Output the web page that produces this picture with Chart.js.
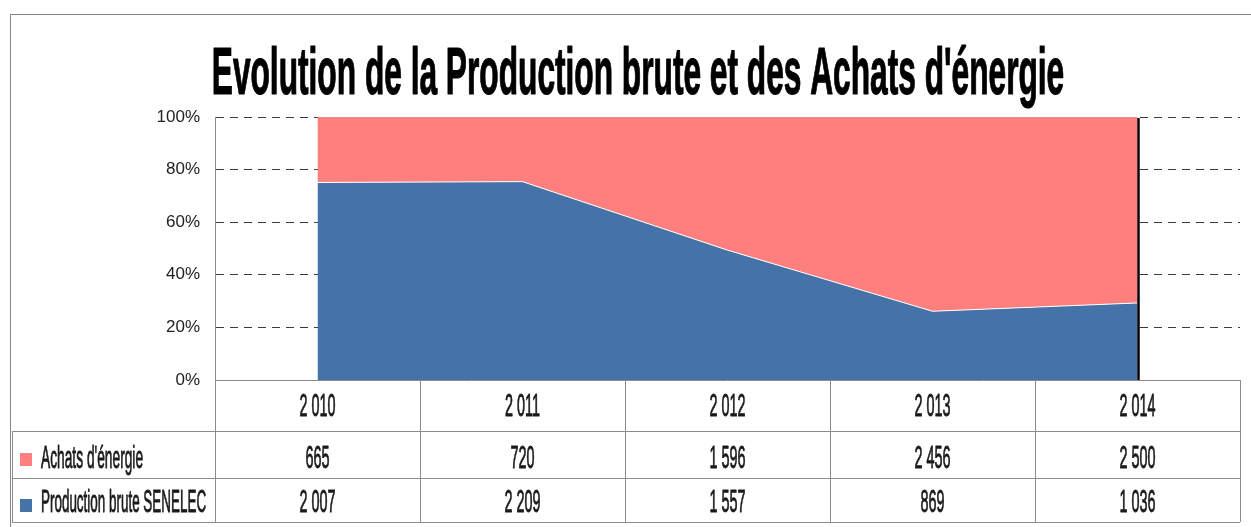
<!DOCTYPE html>
<html>
<head>
<meta charset="utf-8">
<script src="https://cdn.jsdelivr.net/npm/chart.js@4/dist/chart.umd.min.js"></script>
<style>
  html, body { margin: 0; padding: 0; background: #fff; overflow: hidden; }
  #frame {
    position: absolute; left: 10px; top: 14px;
    width: 1300px; height: 560px;
    border: 1px solid #868686;
  }
  canvas { display: block; }
</style>
</head>
<body>
<div id="frame"><canvas id="myChart" width="1254" height="512"></canvas></div>
<script>
const title = "Evolution de la Production brute et des Achats d'énergie";
const categories = ['2 010', '2 011', '2 012', '2 013', '2 014'];
const achats = [665, 720, 1596, 2456, 2500];
const production = [2007, 2209, 1557, 869, 1036];
const seriesNames = ["Achats d'énergie", 'Production brute SENELEC'];
const blue = '#4572A7';
const pink = '#FF7F7F';

// parts of 100%
const prodShare = production.map((v, i) => v / (v + achats[i]));
const achatsShare = achats.map((v, i) => v / (v + production[i]));

const fmt = n => String(n).replace(/\B(?=(\d{3})+(?!\d))/g, ' ');

// condensed text: squeeze a normal font horizontally
function narrowText(ctx, text, x, y, font, sx, align, stroke) {
  ctx.save();
  ctx.font = font;
  const w = ctx.measureText(text).width * sx;
  let left = x;
  if (align === 'center') left = x - w / 2;
  ctx.translate(left, y);
  ctx.scale(sx, 1);
  ctx.textAlign = 'left';
  ctx.textBaseline = 'alphabetic';
  ctx.fillText(text, 0, 0);
  if (stroke) {
    ctx.lineWidth = stroke;
    ctx.strokeStyle = ctx.fillStyle;
    ctx.lineJoin = 'round';
    ctx.strokeText(text, 0, 0);
  }
  ctx.restore();
}

const tablePlugin = {
  id: 'tablePlugin',
  afterDatasetsDraw(chart) {
    const ctx = chart.ctx;
    const area = chart.chartArea;
    const x = chart.scales.x;
    // black line at the last point
    const xl = x.getPixelForValue(categories.length - 1) + 1;
    ctx.save();
    ctx.strokeStyle = '#000';
    ctx.lineWidth = 2.5;
    ctx.beginPath();
    ctx.moveTo(xl, area.top + 1);
    ctx.lineTo(xl, area.bottom);
    ctx.stroke();
    ctx.restore();
  },
  afterDraw(chart) {
    const ctx = chart.ctx;
    const area = chart.chartArea;
    const x = chart.scales.x;
    const step = x.getPixelForValue(1) - x.getPixelForValue(0);
    const r0 = area.bottom, r1 = r0 + 51, r2 = r1 + 47, r3 = r2 + 44;
    const tableLeft = 1;

    // title
    ctx.save();
    ctx.fillStyle = '#000';
    narrowText(ctx, title, chart.width / 2, 79, 'bold 66px "Liberation Sans", Arial, sans-serif', 0.48, 'center', 1.2);
    ctx.restore();

    ctx.save();
    ctx.strokeStyle = '#8c8c8c';
    ctx.lineWidth = 1;
    ctx.beginPath();
    ctx.moveTo(area.left, r0 + 0.5); ctx.lineTo(area.right, r0 + 0.5);
    [r1, r2, r3].forEach(y => { ctx.moveTo(tableLeft, y + 0.5); ctx.lineTo(area.right, y + 0.5); });
    ctx.moveTo(tableLeft + 0.5, r1); ctx.lineTo(tableLeft + 0.5, r3);
    for (let i = 0; i <= categories.length; i++) {
      const cx = Math.round(x.getPixelForValue(0) - step / 2 + i * step) + 0.5;
      ctx.moveTo(cx, r0); ctx.lineTo(cx, r3);
    }
    ctx.stroke();
    ctx.restore();

    const font = '32px "Liberation Sans", Arial, sans-serif';
    const sx = 0.45;
    ctx.save();
    ctx.fillStyle = '#1a1a1a';
    categories.forEach((c, i) => {
      const cx = x.getPixelForValue(i);
      narrowText(ctx, c, cx, r0 + 36, font, sx, 'center', 0.9);
      narrowText(ctx, fmt(achats[i]), cx, r1 + 37, font, sx, 'center', 0.9);
      narrowText(ctx, fmt(production[i]), cx, r2 + 34, font, sx, 'center', 0.9);
    });
    narrowText(ctx, seriesNames[0], 30, r1 + 37, font, 0.43, 'left', 0.9);
    narrowText(ctx, seriesNames[1], 30, r2 + 34, font, 0.42, 'left', 0.9);
    ctx.fillStyle = pink;
    ctx.fillRect(9, r1 + 22, 12, 13);
    ctx.fillStyle = blue;
    ctx.fillRect(9, r2 + 21, 12, 13);
    ctx.restore();
  }
};

const data = {
  labels: categories,
  datasets: [
    {
      label: seriesNames[1],
      data: prodShare,
      backgroundColor: blue,
      borderColor: '#ffffff',
      borderWidth: 1,
      fill: 'origin',
      pointRadius: 0,
      tension: 0
    },
    {
      label: seriesNames[0],
      data: achatsShare,
      backgroundColor: pink,
      borderColor: pink,
      borderWidth: 0,
      fill: '-1',
      pointRadius: 0,
      tension: 0
    }
  ]
};

const options = {
  responsive: false,
  animation: false,
  devicePixelRatio: 1,
  layout: { padding: { left: 144, right: 25, top: 102, bottom: 147 } },
  plugins: {
    legend: { display: false },
    title: { display: false },
    tooltip: { enabled: false }
  },
  scales: {
    x: {
      type: 'category',
      offset: true,
      display: false
    },
    y: {
      stacked: true,
      min: 0,
      max: 1,
      afterFit: s => { s.width = 60; },
      ticks: {
        stepSize: 0.2,
        padding: 15,
        color: '#222',
        font: { family: '"Liberation Sans", Arial, sans-serif', size: 17 },
        callback: v => Math.round(v * 100) + '%'
      },
      grid: {
        drawTicks: false,
        color: ctx => ctx.tick && ctx.tick.value === 0 ? 'rgba(0,0,0,0)' : '#3c3c3c',
        lineWidth: 1
      },
      border: { display: true, color: '#8c8c8c', width: 1, dash: [8, 6] }
    }
  }
};

const config = {
  type: 'line',
  data: data,
  options: options,
  plugins: [tablePlugin]
};

const myChart = new Chart(document.getElementById('myChart'), config);
</script>
</body>
</html>
